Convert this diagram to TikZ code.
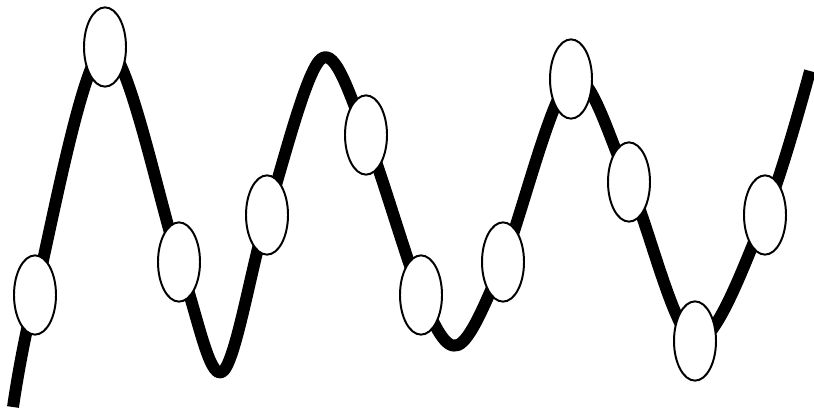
\documentclass[tikz,border=0pt]{standalone}
\usepackage{tikz}
\usetikzlibrary{shapes.geometric}

\begin{document}
\begin{tikzpicture}[
    x=0.025cm, y=-0.025cm,
    perle/.style={ellipse, draw=black, fill=white, line width=1.4pt,
                  minimum width=1.05cm, minimum height=1.98cm, inner sep=0pt},
    courbe/.style={line width=8.5pt, line cap=butt, line join=round}
  ]
    \useasboundingbox (0,0) rectangle (814,409);

    % Points de passage
    \coordinate (debut) at (13,407);
    \coordinate (p1)  at (35,295);
    \coordinate (p2)  at (105,47);
    \coordinate (p3)  at (179,262);
    \coordinate (c1)  at (222,372);
    \coordinate (p4)  at (267,215);
    \coordinate (s1)  at (321,59);
    \coordinate (p5)  at (366,135);
    \coordinate (p6)  at (421,295);
    \coordinate (c2)  at (458,345);
    \coordinate (p7)  at (503,262);
    \coordinate (p8)  at (571,79);
    \coordinate (p9)  at (629,182);
    \coordinate (p10) at (695,341);
    \coordinate (p11) at (765,215);
    \coordinate (fin) at (810,71);

    % Onde
    \draw[courbe] plot[smooth, tension=0.55] coordinates
      {(debut) (p1) (p2) (p3) (c1) (p4) (s1) (p5) (p6) (c2) (p7) (p8)
       (p9) (p10) (p11) (fin)};

    % Perles
    \foreach \i in {1,...,11}
      \node[perle] (perle\i) at (p\i) {};
  \end{tikzpicture}
\end{document}
